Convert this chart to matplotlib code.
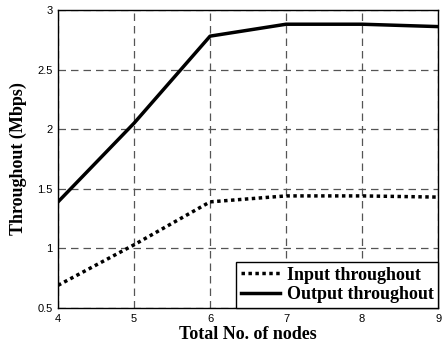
import numpy as np
import matplotlib.pyplot as plt

nodes = [4, 5, 6, 7, 8, 9]
input_tp = [0.69, 1.03, 1.39, 1.44, 1.44, 1.43]
output_tp = [1.39, 2.05, 2.78, 2.88, 2.88, 2.86]

fig = plt.figure(figsize=(4.43, 3.54), dpi=100)
ax = fig.add_axes([0.131, 0.130, 0.858, 0.842])

ax.plot(nodes, input_tp, color='black', linestyle=(0, (1, 1)), linewidth=2.5, label='Input throughout')
ax.plot(nodes, output_tp, color='black', linestyle='-', linewidth=2.5, label='Output throughout')

ax.set_xlim(4, 9)
ax.set_ylim(0.5, 3)
ax.set_xticks([4, 5, 6, 7, 8, 9])
ax.set_yticks([0.5, 1, 1.5, 2, 2.5, 3])
ax.set_yticklabels(['0.5', '1', '1.5', '2', '2.5', '3'])
for lab in ax.get_xticklabels() + ax.get_yticklabels():
    lab.set_fontfamily('Liberation Sans')
    lab.set_fontsize(8)
ax.tick_params(direction='in', length=0, pad=4)
ax.grid(True, color='#555555', linestyle=(0, (6, 4)), linewidth=0.9)
for s in ax.spines.values():
    s.set_linewidth(1.0)

ax.set_xlabel('Total No. of nodes', family='Liberation Serif', fontweight='bold', fontsize=13, labelpad=2)
ax.set_ylabel('Throughout (Mbps)', family='Liberation Serif', fontweight='bold', fontsize=13, labelpad=7)

leg = ax.legend(loc='lower right', prop={'family': 'Liberation Serif', 'weight': 'bold', 'size': 13},
                fancybox=False, framealpha=1, edgecolor='black', borderaxespad=0,
                handlelength=2.2, handletextpad=0.35, borderpad=0.25, labelspacing=0.15)
leg.get_frame().set_linewidth(1.0)

fig.savefig('out.png', dpi=100)
